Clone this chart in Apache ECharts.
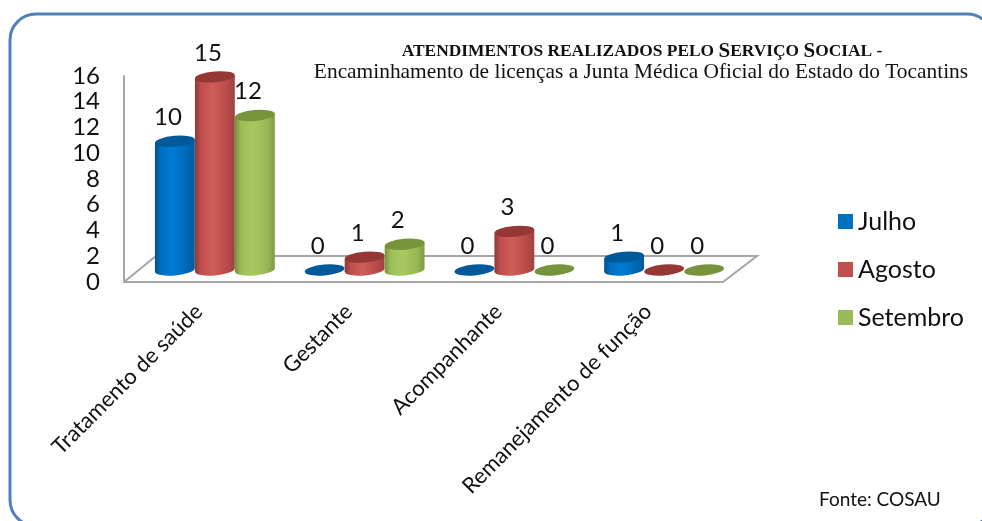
<!DOCTYPE html>
<html><head><meta charset="utf-8">
<style>html,body{margin:0;padding:0;background:#fff}#c{width:982px;height:521px}</style>
<script src="https://cdn.jsdelivr.net/npm/echarts@6/dist/echarts.min.js"></script>
</head><body><div id="c"></div>
<script>
const categories = ['Tratamento de saúde','Gestante','Acompanhante','Remanejamento de função'];
const julho = [10,0,0,1];
const agosto = [15,1,3,0];
const setembro = [12,2,0,0];
const yTicks = [0,2,4,6,8,10,12,14,16];

const DX = 16, DY = -12, RX = 20, RY = 5.4, TILT = -5, DEPTHX = 32, DEPTHY = -26;
const rad = TILT * Math.PI / 180, ex = RX * Math.cos(rad), ey = RX * Math.sin(rad);
const palette = {
  Julho:    {grad:['#00508f','#0070c0','#007cd4','#0068b4','#005a9e'], top:'#005a9a', base:'#0070c0'},
  Agosto:   {grad:['#8a3836','#bf4f4c','#cf5d5a','#b84b48','#9c4341'], top:'#953735', base:'#c0504d'},
  Setembro: {grad:['#76903e','#9dbd58','#a9c960','#99b855','#7f9a46'], top:'#77933c', base:'#9bbb59'}
};
function ellipsePath(cx, cy) {
  return `M${cx-ex} ${cy-ey}A${RX} ${RY} ${TILT} 1 1 ${cx+ex} ${cy+ey}A${RX} ${RY} ${TILT} 1 1 ${cx-ex} ${cy-ey}Z`;
}
function cylinder(name, slot) {
  const pal = palette[name];
  const fill = {type:'linear',x:0,y:0,x2:1,y2:0,colorStops:[
    {offset:0,color:pal.grad[0]},{offset:.15,color:pal.grad[1]},{offset:.45,color:pal.grad[2]},
    {offset:.8,color:pal.grad[3]},{offset:1,color:pal.grad[4]}]};
  return function (params, api) {
    const cat = api.value(0), v = api.value(1);
    const p = api.coord([cat, v]), p0 = api.coord([cat, 0]);
    const cx = p[0] + DX + slot * 2 * RX, top = p[1] + DY, base = p0[1] + DY;
    const children = [];
    if (v > 0) {
      children.push({type:'path', shape:{pathData:ellipsePath(cx, base)}, style:{fill}});
      children.push({type:'polygon', shape:{points:[[cx-ex,top-ey],[cx-ex,base-ey],[cx+ex,base+ey],[cx+ex,top+ey]]}, style:{fill}});
    }
    children.push({type:'path', shape:{pathData:ellipsePath(cx, top)}, style:{fill:pal.top}});
    children.push({type:'text', style:{text:String(v), x:cx-7, y:top-24, align:'center', verticalAlign:'middle',
      font:'24px Lato', fill:'#111'}});
    return {type:'group', children};
  };
}
function floorItem(params, api) {
  const half = api.size([1, 0])[0] / 2;
  const a = api.coord([0, 0]), b = api.coord([categories.length - 1, 0]);
  const l = a[0] - half, r = b[0] + half, y = a[1];
  return {type:'polyline', shape:{points:[[l,y],[l+DEPTHX,y+DEPTHY],[r+DEPTHX+2,y+DEPTHY],[r,y]]},
    style:{fill:null, stroke:'#a6a6a6', lineWidth:2}};
}
function mk(name, slot, vals) {
  return {name, type:'custom', coordinateSystem:'cartesian2d', renderItem:cylinder(name, slot),
    itemStyle:{color:palette[name].base}, encode:{x:0,y:1}, clip:false, z:3+slot,
    data:vals.map((v,i)=>[i,v])};
}
const chart = echarts.init(document.getElementById('c'), null, {renderer:'canvas'});
chart.setOption({
  animation:false,
  backgroundColor:'#fff',
  graphic:[{type:'rect', shape:{x:10,y:14,width:983,height:512,r:26}, style:{fill:null,stroke:'#4f81bd',lineWidth:3}, z:0}],
  title:[
    {left:637, top:36, textAlign:'center', text:'{a|ATENDIMENTOS REALIZADOS PELO }{b|S}{a|ERVIÇO }{b|S}{a|OCIAL -}',
     textStyle:{rich:{a:{fontFamily:'Liberation Serif',fontWeight:'bold',fontSize:17.4,color:'#111'},
                      b:{fontFamily:'Liberation Serif',fontWeight:'bold',fontSize:21,color:'#111'}}}},
    {left:636, top:57, textAlign:'center', text:'Encaminhamento de licenças a Junta Médica Oficial do Estado do Tocantins',
     textStyle:{fontFamily:'Liberation Serif',fontWeight:'normal',fontSize:21.4,color:'#111'}},
    {left:814, top:485, text:'Fonte: COSAU', textStyle:{fontFamily:'Lato',fontWeight:'normal',fontSize:19,color:'#111'}}
  ],
  legend:{orient:'vertical', left:838, top:209, padding:0, itemWidth:15, itemHeight:15, itemGap:23, icon:'rect',
    textStyle:{fontFamily:'Lato',fontSize:25,color:'#111'},
    data:['Julho','Agosto','Setembro']},
  grid:{left:124, right:259, top:76, bottom:239},
  xAxis:{type:'category', data:categories, boundaryGap:true,
    axisLine:{lineStyle:{color:'#a6a6a6',width:2}}, axisTick:{show:false},
    axisLabel:{rotate:45, interval:0, margin:26, fontFamily:'Lato', fontSize:22, color:'#111'}},
  yAxis:{type:'value', min:yTicks[0], max:yTicks[yTicks.length-1], interval:2,
    axisLine:{show:true,lineStyle:{color:'#a6a6a6',width:2}}, axisTick:{show:false}, splitLine:{show:false},
    axisLabel:{margin:24, fontFamily:'Lato', fontSize:24, color:'#111'}},
  series:[
    {name:'floor', type:'custom', coordinateSystem:'cartesian2d', renderItem:floorItem, data:[[0,0]], clip:false, z:1, silent:true},
    mk('Julho',-1,julho), mk('Agosto',0,agosto), mk('Setembro',1,setembro)
  ]
});
</script></body></html>
